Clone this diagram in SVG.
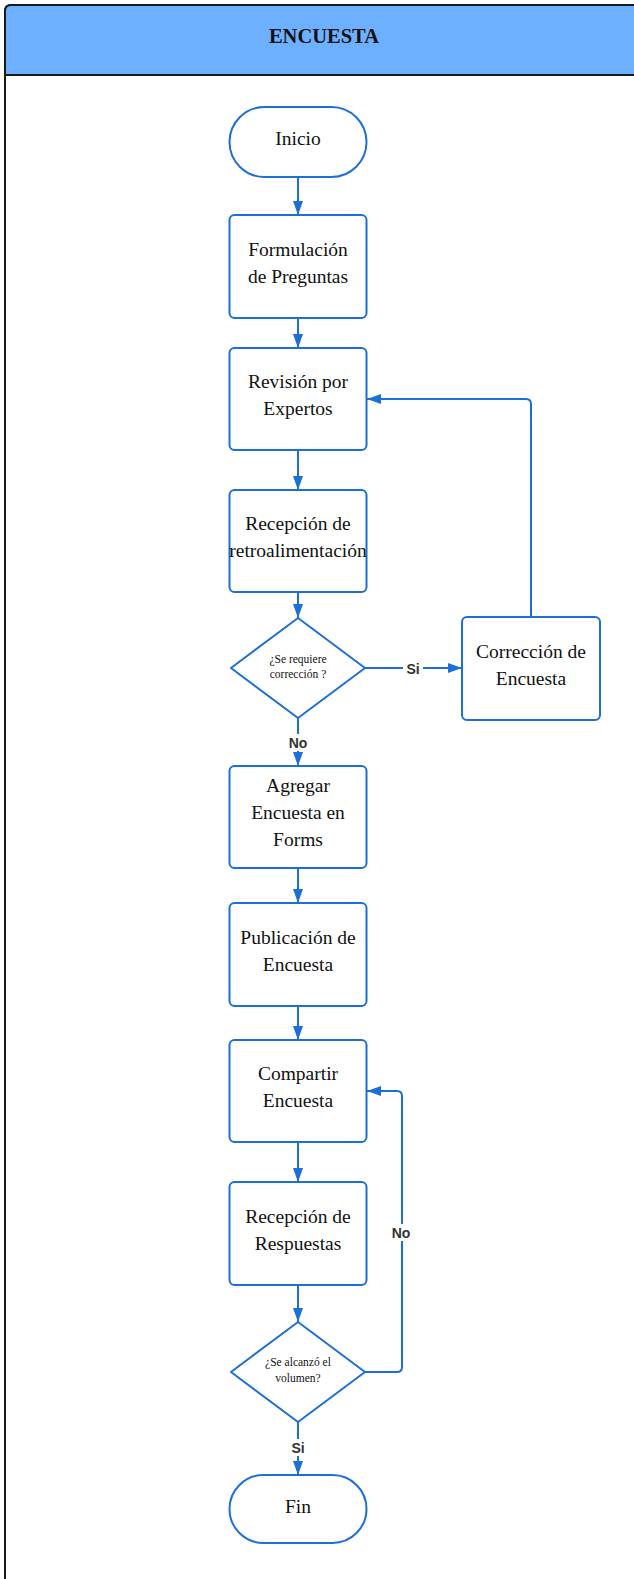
<svg xmlns="http://www.w3.org/2000/svg" width="634" height="1579" viewBox="0 0 634 1579">
  <style>
    .node { fill: #ffffff; stroke: #1d6fd8; stroke-width: 2; }
    .lbl { font-family: "Liberation Serif", "Times New Roman", serif; font-size: 19.5px; fill: #111111; text-anchor: middle; }
    .small { font-family: "Liberation Serif", "Times New Roman", serif; font-size: 11.5px; fill: #111111; text-anchor: middle; }
    .edge { fill: none; stroke: #1d6fd8; stroke-width: 2; marker-end: url(#arrow); }
    .elbl { font-family: "Liberation Sans", Arial, sans-serif; font-size: 14px; font-weight: bold; fill: #333333; text-anchor: middle; }
    .elbg { fill: #ffffff; }
  </style>
  <defs>
    <marker id="arrow" viewBox="0 0 14 10" refX="14" refY="5" markerWidth="14" markerHeight="10" markerUnits="userSpaceOnUse" orient="auto">
      <path d="M0,0 L14,5 L0,10 Z" fill="#1d6fd8"/>
    </marker>
  </defs>

  <!-- swimlane frame (runs past the right and bottom edges) -->
  <g id="lane">
    <rect x="5" y="5" width="660" height="1600" rx="6" fill="#ffffff" stroke="#1a1a1a" stroke-width="2"/>
    <path d="M5,75 V11 Q5,5 11,5 H665 V75 Z" fill="#6db0ff" stroke="#1a1a1a" stroke-width="2"/>
    <text x="324" y="43" font-family="'Liberation Serif', 'Times New Roman', serif" font-size="20.5" font-weight="bold" fill="#111111" text-anchor="middle">ENCUESTA</text>
  </g>

  <!-- connectors -->
  <g id="connectors">
    <path class="edge" d="M298,177 V215"/>
    <path class="edge" d="M298,318 V348"/>
    <path class="edge" d="M298,450 V490"/>
    <path class="edge" d="M298,592 V618"/>
    <path class="edge" d="M298,718 V766"/>
    <path class="edge" d="M298,868 V903"/>
    <path class="edge" d="M298,1006 V1040"/>
    <path class="edge" d="M298,1142 V1182"/>
    <path class="edge" d="M298,1285 V1322"/>
    <path class="edge" d="M298,1422 V1475"/>
    <path class="edge" d="M365,668 H462"/>
    <path class="edge" d="M531,617 V404 Q531,399 526,399 H367"/>
    <path class="edge" d="M365,1372 H397 Q402,1372 402,1367 V1096 Q402,1091 397,1091 H367"/>

    <rect class="elbg" x="403" y="660" width="20" height="17"/>
    <text class="elbl" x="413" y="674">Si</text>
    <rect class="elbg" x="286" y="734" width="24" height="17"/>
    <text class="elbl" x="298" y="748">No</text>
    <rect class="elbg" x="389" y="1224" width="24" height="17"/>
    <text class="elbl" x="401" y="1238">No</text>
    <rect class="elbg" x="288" y="1439" width="20" height="17"/>
    <text class="elbl" x="298" y="1453">Si</text>
  </g>

  <g id="inicio">
    <rect class="node" x="229.5" y="107" width="137" height="70" rx="35"/>
    <text class="lbl" x="298" y="145">Inicio</text>
  </g>

  <g id="formulacion">
    <rect class="node" x="229.5" y="215" width="137" height="103" rx="5"/>
    <text class="lbl" x="298" y="256">Formulación</text>
    <text class="lbl" x="298" y="283">de Preguntas</text>
  </g>

  <g id="revision">
    <rect class="node" x="229.5" y="348" width="137" height="102" rx="5"/>
    <text class="lbl" x="298" y="388">Revisión por</text>
    <text class="lbl" x="298" y="415">Expertos</text>
  </g>

  <g id="recepcion-retro">
    <rect class="node" x="229.5" y="490" width="137" height="102" rx="5"/>
    <text class="lbl" x="298" y="530">Recepción de</text>
    <text class="lbl" x="298" y="557">retroalimentación</text>
  </g>

  <g id="decision-correccion">
    <path class="node" d="M298,618 L365,668 L298,718 L231,668 Z" stroke-linejoin="round"/>
    <text class="small" x="298" y="663">¿Se requiere</text>
    <text class="small" x="298" y="678">corrección ?</text>
  </g>

  <g id="correccion">
    <rect class="node" x="462" y="617" width="138" height="103" rx="5"/>
    <text class="lbl" x="531" y="658">Corrección de</text>
    <text class="lbl" x="531" y="685">Encuesta</text>
  </g>

  <g id="agregar">
    <rect class="node" x="229.5" y="766" width="137" height="102" rx="5"/>
    <text class="lbl" x="298" y="792">Agregar</text>
    <text class="lbl" x="298" y="819">Encuesta en</text>
    <text class="lbl" x="298" y="846">Forms</text>
  </g>

  <g id="publicacion">
    <rect class="node" x="229.5" y="903" width="137" height="103" rx="5"/>
    <text class="lbl" x="298" y="944">Publicación de</text>
    <text class="lbl" x="298" y="971">Encuesta</text>
  </g>

  <g id="compartir">
    <rect class="node" x="229.5" y="1040" width="137" height="102" rx="5"/>
    <text class="lbl" x="298" y="1080">Compartir</text>
    <text class="lbl" x="298" y="1107">Encuesta</text>
  </g>

  <g id="recepcion-respuestas">
    <rect class="node" x="229.5" y="1182" width="137" height="103" rx="5"/>
    <text class="lbl" x="298" y="1223">Recepción de</text>
    <text class="lbl" x="298" y="1250">Respuestas</text>
  </g>

  <g id="decision-volumen">
    <path class="node" d="M298,1322 L365,1372 L298,1422 L231,1372 Z" stroke-linejoin="round"/>
    <text class="small" x="298" y="1366">¿Se alcanzó el</text>
    <text class="small" x="298" y="1382">volumen?</text>
  </g>

  <g id="fin">
    <rect class="node" x="229.5" y="1475" width="137" height="68" rx="34"/>
    <text class="lbl" x="298" y="1513">Fin</text>
  </g>
</svg>
